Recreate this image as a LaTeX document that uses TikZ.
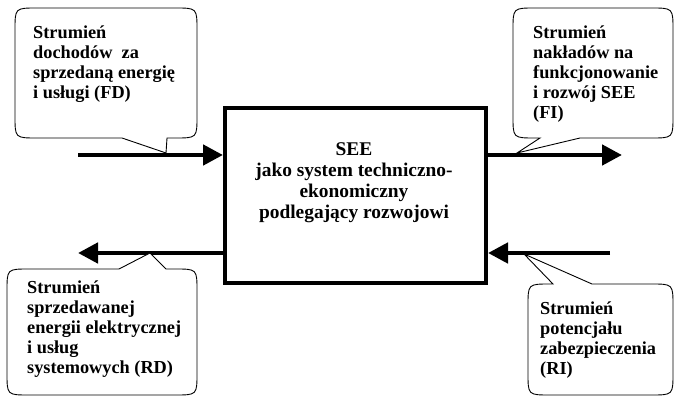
\documentclass[tikz,border=0pt]{standalone}
\usepackage{fontspec}
\setmainfont{Liberation Serif}
\usetikzlibrary{arrows.meta}
\begin{document}
\begin{tikzpicture}[x=1pt,y=-1pt,
  flow/.style={line width=4.6pt,-{Triangle[length=20pt,width=20pt]}},
  bubble/.style={draw=black,line width=0.9pt,fill=white},
  bubbletext/.style={anchor=north west,inner sep=0pt,align=left,
    font=\bfseries\fontsize{18.3}{19.8}\selectfont},
  systembox/.style={draw=black,line width=4pt,minimum width=261pt,minimum height=175pt,inner sep=0pt}]
\useasboundingbox (0,0) rectangle (675,398);

% central system block
\node[systembox] (box) at (355.5,195.5) {};
\node[anchor=north,inner sep=0pt,align=center,
  font=\bfseries\fontsize{19.4}{21.3}\selectfont] (boxtext) at (354,142)
  {SEE\\jako system techniczno-\\ekonomiczny\\podlegający rozwojowi};

% free ends of the flows
\coordinate (fdtail) at (78,155);
\coordinate (fihead) at (622,155);
\coordinate (rdhead) at (78,253);
\coordinate (ritail) at (610,253);

% flows into and out of the system
\draw[flow] (fdtail) -- (fdtail -| box.west);
\draw[flow] (fihead -| box.east) -- (fihead);
\draw[flow] (rdhead -| box.west) -- (rdhead);
\draw[flow] (ritail) -- (ritail -| box.east);

% pointer tips of the callouts on the flows
\coordinate (fdtip) at (166,153);
\coordinate (fitip) at (517,153);
\coordinate (rdtip) at (150,253);
\coordinate (ritip) at (524,254);

% callout: FD
\draw[bubble] (37,8) -- (175,8) .. controls (197,8) .. (197,30) -- (197,116)
  .. controls (197,138) .. (175,138) -- (167,138) -- (fdtip) -- (122,138)
  -- (37,138) .. controls (15,138) .. (15,116) -- (15,30) .. controls (15,8) .. (37,8) -- cycle;
\node[bubbletext] (fdtext) at (33,26)
  {Strumień\\dochodów\ \ za\\sprzedaną energię\\i usługi (FD)};

% callout: FI
\draw[bubble] (535,8) -- (651,8) .. controls (673,8) .. (673,30) -- (673,116)
  .. controls (673,138) .. (651,138) -- (580,138) -- (fitip) -- (540,138)
  -- (535,138) .. controls (513,138) .. (513,116) -- (513,30) .. controls (513,8) .. (535,8) -- cycle;
\node[bubbletext] (fitext) at (533,26)
  {Strumień\\nakładów na\\funkcjonowanie\\i rozwój SEE\\(FI)};

% callout: RD
\draw[bubble] (29,269) -- (119,269) -- (rdtip) -- (166,269) -- (175,269)
  .. controls (197,269) .. (197,291) -- (197,373) .. controls (197,395) .. (175,395)
  -- (29,395) .. controls (7,395) .. (7,373) -- (7,291) .. controls (7,269) .. (29,269) -- cycle;
\node[bubbletext] (rdtext) at (27,281)
  {Strumień\\sprzedawanej\\energii elektrycznej\\i usług\\systemowych (RD)};

% callout: RI
\draw[bubble] (553,284) -- (ritip) -- (592,284) -- (651,284)
  .. controls (673,284) .. (673,306) -- (673,373) .. controls (673,395) .. (651,395)
  -- (550,395) .. controls (528,395) .. (528,373) -- (528,306) .. controls (528,284) .. (550,284) -- cycle;
\node[bubbletext] (ritext) at (540,302)
  {Strumień\\potencjału\\zabezpieczenia\\(RI)};
\end{tikzpicture}
\end{document}
